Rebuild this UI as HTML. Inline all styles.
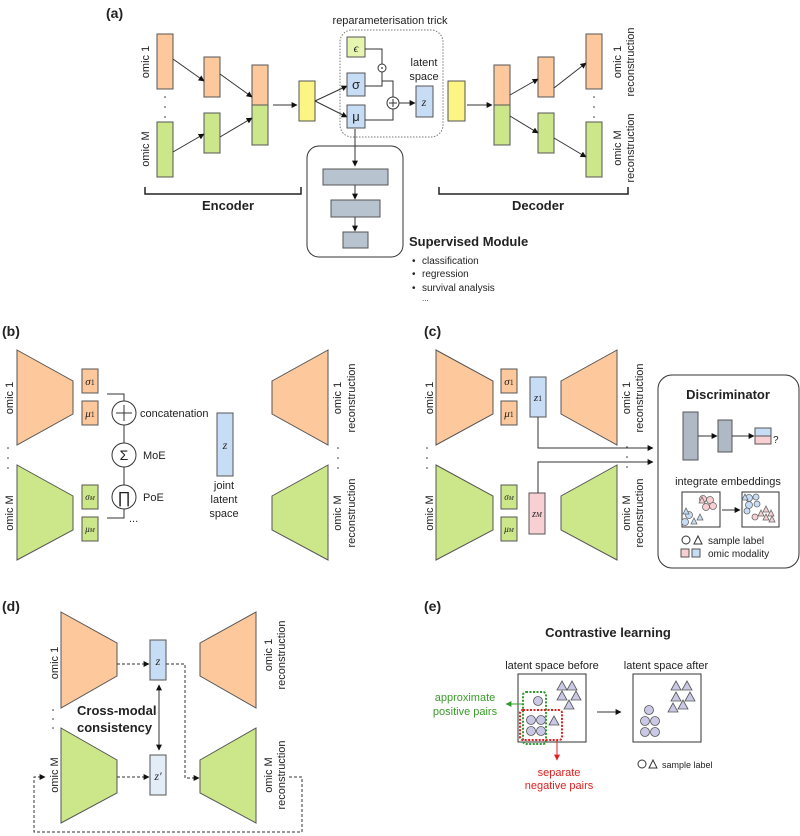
<!DOCTYPE html>
<html><head><meta charset="utf-8"><style>
html,body{margin:0;padding:0;background:#fff}
svg{display:block}
text{font-family:"Liberation Sans",sans-serif;fill:#222}
.o{fill:#fdc89b;stroke:#555;stroke-width:1}
.g{fill:#cce68a;stroke:#555;stroke-width:1}
.b{fill:#c7ddf5;stroke:#555;stroke-width:1}
.gr{fill:#b7c3cf;stroke:#555;stroke-width:1}
.ln{stroke:#333;stroke-width:1;fill:none}
.ds{stroke:#333;stroke-width:1;fill:none;stroke-dasharray:3,2}
.s11{font-size:11px}
.bold{font-weight:bold}
.m{font-family:"Liberation Serif",serif;font-style:italic}
</style></head><body>
<svg width="800" height="836" viewBox="0 0 800 836" xmlns="http://www.w3.org/2000/svg">
<defs>
<marker id="a" viewBox="0 0 10 10" refX="9" refY="5" markerWidth="6" markerHeight="6" orient="auto-start-reverse"><path d="M0,0 L10,5 L0,10 z" fill="#111"/></marker>
<marker id="ag" viewBox="0 0 10 10" refX="9" refY="5" markerWidth="6" markerHeight="6" orient="auto"><path d="M0,0 L10,5 L0,10 z" fill="#2e9a2e"/></marker>
<marker id="ar" viewBox="0 0 10 10" refX="9" refY="5" markerWidth="6" markerHeight="6" orient="auto"><path d="M0,0 L10,5 L0,10 z" fill="#e02020"/></marker>
</defs>

<!-- ===== (a) ===== -->
<text x="106" y="18" font-size="14" class="bold">(a)</text>
<text x="390" y="24" class="s11" text-anchor="middle">reparameterisation trick</text>
<rect x="157" y="34" width="16" height="55" class="o"/>
<rect x="157" y="122" width="16" height="55" class="g"/>
<text transform="translate(149,62) rotate(-90)" class="s11" text-anchor="middle">omic 1</text>
<text transform="translate(149,149) rotate(-90)" class="s11" text-anchor="middle">omic M</text>
<g fill="#333"><circle cx="165" cy="97" r="0.8"/><circle cx="165" cy="107" r="0.8"/><circle cx="165" cy="117" r="0.8"/></g>
<rect x="204" y="57" width="16" height="40" class="o"/>
<rect x="204" y="113" width="16" height="40" class="g"/>
<rect x="252" y="65" width="16" height="40" class="o"/>
<rect x="252" y="105" width="16" height="40" class="g"/>
<line x1="173" y1="59" x2="204" y2="81" class="ln" marker-end="url(#a)"/>
<line x1="220" y1="74" x2="252" y2="97" class="ln" marker-end="url(#a)"/>
<line x1="173" y1="152" x2="204" y2="134" class="ln" marker-end="url(#a)"/>
<line x1="220" y1="137" x2="252" y2="118" class="ln" marker-end="url(#a)"/>
<line x1="273" y1="105" x2="297" y2="105" class="ln" marker-end="url(#a)"/>
<rect x="299" y="81" width="16" height="40" fill="#fcf584" stroke="#555"/>
<line x1="315" y1="101" x2="347" y2="86" class="ln" marker-end="url(#a)"/>
<line x1="315" y1="101" x2="347" y2="117" class="ln" marker-end="url(#a)"/>
<rect x="340" y="30" width="103" height="107" rx="12" fill="none" stroke="#777" stroke-dasharray="1.5,1.5"/>
<rect x="347" y="37" width="18" height="20" fill="#e6f5b0" stroke="#555"/>
<text x="356" y="52" font-size="12" text-anchor="middle" class="m">ϵ</text>
<rect x="347" y="73" width="18" height="23" class="b"/>
<text x="356" y="89" font-size="13" text-anchor="middle" font-family="Liberation Serif">σ</text>
<rect x="347" y="105" width="18" height="23" class="b"/>
<text x="356" y="121" font-size="13" text-anchor="middle" font-family="Liberation Serif">μ</text>
<polyline points="365,49 382,49 382,64" class="ln"/>
<polyline points="365,86 382,86 382,72" class="ln"/>
<circle cx="382" cy="68" r="4" fill="#fff" stroke="#333"/><circle cx="382" cy="68" r="0.9" fill="#333"/>
<polyline points="382,72 382,81 393,81 393,97" class="ln"/>
<polyline points="365,120 393,120 393,109" class="ln"/>
<circle cx="393" cy="103" r="6" fill="#fff" stroke="#333"/>
<path d="M389,103 H397 M393,99 V107" stroke="#333"/>
<line x1="399" y1="103" x2="415" y2="103" class="ln" marker-end="url(#a)"/>
<rect x="416" y="86" width="17" height="31" class="b"/>
<text x="424" y="106" font-size="12" text-anchor="middle" class="m">z</text>
<text x="424" y="66" class="s11" text-anchor="middle">latent</text>
<text x="424" y="80" class="s11" text-anchor="middle">space</text>
<!-- decoder -->
<rect x="448" y="81" width="17" height="40" fill="#fcf584" stroke="#555"/>
<line x1="467" y1="105" x2="492" y2="105" class="ln" marker-end="url(#a)"/>
<rect x="494" y="65" width="16" height="40" class="o"/>
<rect x="494" y="105" width="16" height="40" class="g"/>
<rect x="538" y="57" width="16" height="40" class="o"/>
<rect x="538" y="113" width="16" height="40" class="g"/>
<rect x="586" y="34" width="16" height="55" class="o"/>
<rect x="586" y="122" width="16" height="55" class="g"/>
<line x1="510" y1="95" x2="538" y2="79" class="ln" marker-end="url(#a)"/>
<line x1="510" y1="116" x2="538" y2="133" class="ln" marker-end="url(#a)"/>
<line x1="554" y1="88" x2="586" y2="63" class="ln" marker-end="url(#a)"/>
<line x1="554" y1="138" x2="586" y2="157" class="ln" marker-end="url(#a)"/>
<g fill="#333"><circle cx="594" cy="97" r="0.8"/><circle cx="594" cy="107" r="0.8"/><circle cx="594" cy="117" r="0.8"/></g>
<text transform="translate(621,62) rotate(-90)" class="s11" text-anchor="middle">omic 1</text>
<text transform="translate(634,62) rotate(-90)" class="s11" text-anchor="middle">reconstruction</text>
<text transform="translate(621,148) rotate(-90)" class="s11" text-anchor="middle">omic M</text>
<text transform="translate(634,148) rotate(-90)" class="s11" text-anchor="middle">reconstruction</text>
<polyline points="145,187 145,194 301,194 301,187" fill="none" stroke="#222" stroke-width="1.5"/>
<text x="228" y="210" font-size="13" class="bold" text-anchor="middle">Encoder</text>
<polyline points="439,187 439,194 628,194 628,187" fill="none" stroke="#222" stroke-width="1.5"/>
<text x="538" y="210" font-size="13" class="bold" text-anchor="middle">Decoder</text>
<!-- supervised -->
<rect x="307" y="146" width="96" height="111" rx="12" fill="none" stroke="#333"/>
<line x1="355" y1="129" x2="355" y2="166" class="ln" marker-end="url(#a)"/>
<rect x="323" y="169" width="65" height="16" class="gr"/>
<line x1="355" y1="185" x2="355" y2="199" class="ln" marker-end="url(#a)"/>
<rect x="331" y="200" width="49" height="17" class="gr"/>
<line x1="355" y1="217" x2="355" y2="231" class="ln" marker-end="url(#a)"/>
<rect x="343" y="232" width="25" height="16" class="gr"/>
<text x="409" y="246" font-size="13" class="bold">Supervised Module</text>
<g font-size="10"><text x="412" y="264">•</text><text x="422" y="264">classification</text>
<text x="412" y="277">•</text><text x="422" y="277">regression</text>
<text x="412" y="291">•</text><text x="422" y="291">survival analysis</text>
<text x="422" y="301" font-size="8">...</text></g>

<!-- ===== (b) ===== -->
<text x="2" y="336" font-size="14" class="bold">(b)</text>
<polygon points="17,350 73,381 73,414 17,445" class="o"/>
<polygon points="17,465 73,496 73,530 17,560" class="g"/>
<rect x="82" y="369" width="16" height="24" class="o"/><text x="90" y="385" font-size="11" text-anchor="middle" class="m">σ<tspan font-size="8" font-style="normal">1</tspan></text>
<rect x="82" y="401" width="16" height="24" class="o"/><text x="90" y="417" font-size="11" text-anchor="middle" class="m">μ<tspan font-size="8" font-style="normal">1</tspan></text>
<rect x="82" y="485" width="16" height="24" class="g"/><text x="90" y="500" font-size="9" text-anchor="middle" class="m">σ<tspan font-size="6">M</tspan></text>
<rect x="82" y="517" width="16" height="24" class="g"/><text x="90" y="532" font-size="9" text-anchor="middle" class="m">μ<tspan font-size="6">M</tspan></text>
<text transform="translate(13,398) rotate(-90)" class="s11" text-anchor="middle">omic 1</text>
<text transform="translate(13,513) rotate(-90)" class="s11" text-anchor="middle">omic M</text>
<g fill="#333"><circle cx="8" cy="448" r="0.8"/><circle cx="8" cy="458" r="0.8"/><circle cx="8" cy="468" r="0.8"/></g>
<polyline points="107,394 124,394 124,518 107,518" class="ln"/>
<circle cx="124" cy="413" r="12" fill="#fff" stroke="#333"/><path d="M116,413 H132 M124,405 V421" stroke="#333"/>
<circle cx="124" cy="455" r="12" fill="#fff" stroke="#333"/><text x="124" y="460" font-size="14" text-anchor="middle">Σ</text>
<circle cx="124" cy="497" r="12" fill="#fff" stroke="#333"/><text x="124" y="503" font-size="16" text-anchor="middle" font-family="Liberation Serif">∏</text>
<text x="140" y="417" class="s11">concatenation</text>
<text x="143" y="459" class="s11">MoE</text>
<text x="143" y="501" class="s11">PoE</text>
<text x="129" y="522" class="s11">...</text>
<rect x="217" y="413" width="16" height="63" class="b"/><text x="225" y="449" font-size="12" text-anchor="middle" class="m">z</text>
<text x="224" y="489" class="s11" text-anchor="middle">joint</text>
<text x="224" y="503" class="s11" text-anchor="middle">latent</text>
<text x="224" y="517" class="s11" text-anchor="middle">space</text>
<polygon points="328,350 272,381 272,414 328,445" class="o"/>
<polygon points="328,465 272,496 272,530 328,560" class="g"/>
<text transform="translate(341,398) rotate(-90)" class="s11" text-anchor="middle">omic 1</text>
<text transform="translate(355,398) rotate(-90)" class="s11" text-anchor="middle">reconstruction</text>
<text transform="translate(341,513) rotate(-90)" class="s11" text-anchor="middle">omic M</text>
<text transform="translate(355,513) rotate(-90)" class="s11" text-anchor="middle">reconstruction</text>
<g fill="#333"><circle cx="338" cy="448" r="0.8"/><circle cx="338" cy="458" r="0.8"/><circle cx="338" cy="468" r="0.8"/></g>

<!-- ===== (c) ===== -->
<text x="424" y="336" font-size="14" class="bold">(c)</text>
<polygon points="436,350 493,381 493,414 436,445" class="o"/>
<polygon points="436,465 493,496 493,530 436,560" class="g"/>
<rect x="501" y="369" width="16" height="24" class="o"/><text x="509" y="385" font-size="11" text-anchor="middle" class="m">σ<tspan font-size="8" font-style="normal">1</tspan></text>
<rect x="501" y="401" width="16" height="24" class="o"/><text x="509" y="417" font-size="11" text-anchor="middle" class="m">μ<tspan font-size="8" font-style="normal">1</tspan></text>
<rect x="501" y="485" width="16" height="24" class="g"/><text x="509" y="500" font-size="9" text-anchor="middle" class="m">σ<tspan font-size="6">M</tspan></text>
<rect x="501" y="517" width="16" height="24" class="g"/><text x="509" y="532" font-size="9" text-anchor="middle" class="m">μ<tspan font-size="6">M</tspan></text>
<rect x="530" y="377" width="16" height="40" class="b"/><text x="538" y="401" font-size="11" text-anchor="middle" class="m">z<tspan font-size="8" font-style="normal">1</tspan></text>
<rect x="529" y="493" width="16" height="41" fill="#f8cfd3" stroke="#555"/><text x="537" y="517" font-size="10" text-anchor="middle" class="m">z<tspan font-size="7">M</tspan></text>
<text transform="translate(433,398) rotate(-90)" class="s11" text-anchor="middle">omic 1</text>
<text transform="translate(433,513) rotate(-90)" class="s11" text-anchor="middle">omic M</text>
<g fill="#333"><circle cx="427" cy="448" r="0.8"/><circle cx="427" cy="458" r="0.8"/><circle cx="427" cy="468" r="0.8"/></g>
<polygon points="617,350 561,381 561,414 617,445" class="o"/>
<polygon points="617,465 561,496 561,530 617,560" class="g"/>
<text transform="translate(630,398) rotate(-90)" class="s11" text-anchor="middle">omic 1</text>
<text transform="translate(643,398) rotate(-90)" class="s11" text-anchor="middle">reconstruction</text>
<text transform="translate(630,513) rotate(-90)" class="s11" text-anchor="middle">omic M</text>
<text transform="translate(643,513) rotate(-90)" class="s11" text-anchor="middle">reconstruction</text>
<g fill="#333"><circle cx="627" cy="447" r="0.8"/><circle cx="627" cy="457" r="0.8"/><circle cx="627" cy="467" r="0.8"/></g>
<polyline points="538,417 538,448 653,448" class="ln" marker-end="url(#a)"/>
<polyline points="538,493 538,462 653,462" class="ln" marker-end="url(#a)"/>
<rect x="658" y="375" width="141" height="193" rx="14" fill="none" stroke="#333"/>
<text x="728" y="399" font-size="13" class="bold" text-anchor="middle">Discriminator</text>
<rect x="683" y="412" width="15" height="48" fill="#aeb9c5" stroke="#555"/>
<rect x="718" y="420" width="14" height="32" fill="#aeb9c5" stroke="#555"/>
<line x1="698" y1="436" x2="717" y2="436" class="ln" marker-end="url(#a)"/>
<line x1="732" y1="436" x2="754" y2="436" class="ln" marker-end="url(#a)"/>
<rect x="755" y="428" width="16" height="8" class="b"/><rect x="755" y="436" width="16" height="8" fill="#f8cfd3" stroke="#555"/>
<text x="773" y="443" font-size="10">?</text>
<text x="728" y="485" class="s11" text-anchor="middle">integrate embeddings</text>
<rect x="682" y="492" width="38" height="35" fill="#fff" stroke="#333"/>
<rect x="742" y="492" width="37" height="35" fill="#fff" stroke="#333"/>
<line x1="722" y1="510" x2="740" y2="510" class="ln" marker-end="url(#a)"/>
<g stroke="#666" stroke-width="0.8" fill="#f8cfd3">
<circle cx="703" cy="499" r="3.5"/><circle cx="710" cy="500" r="3.5"/><circle cx="713" cy="506" r="3.5"/><circle cx="706" cy="507" r="3.5"/><polygon points="699,503 702,497 705,503"/>
<polygon points="758,516 761,510 764,516"/><polygon points="763,512 766,506 769,512"/><polygon points="768,516 771,510 774,516"/><polygon points="763,520 766,514 769,520"/><polygon points="769,522 772,516 775,522"/><circle cx="755" cy="517" r="3"/></g>
<g stroke="#666" stroke-width="0.8" fill="#c7ddf5">
<circle cx="689" cy="515" r="3.5"/><circle cx="685" cy="522" r="3.5"/><polygon points="691,524 694,518 697,524"/><polygon points="697,520 700,514 703,520"/><polygon points="683,514 686,508 689,514"/>
<circle cx="749" cy="498" r="3.5"/><circle cx="756" cy="497" r="3"/><circle cx="749" cy="505" r="3.5"/><circle cx="757" cy="504" r="3"/><polygon points="742,500 745,494 748,500"/><circle cx="747" cy="511" r="3"/></g>
<circle cx="686" cy="540" r="4" fill="none" stroke="#333"/>
<polygon points="694,544 698,536 702,544" fill="none" stroke="#333"/>
<text x="708" y="544" font-size="10">sample label</text>
<rect x="681" y="549" width="8" height="8" fill="#f8cfd3" stroke="#555"/>
<rect x="692" y="549" width="8" height="8" class="b"/>
<text x="708" y="557" font-size="10">omic modality</text>

<!-- ===== (d) ===== -->
<text x="2" y="611" font-size="14" class="bold">(d)</text>
<polygon points="61,612 117,643 117,676 61,708" class="o"/>
<polygon points="61,728 117,760 117,793 61,823" class="g"/>
<text transform="translate(58,663) rotate(-90)" class="s11" text-anchor="middle">omic 1</text>
<text transform="translate(58,775) rotate(-90)" class="s11" text-anchor="middle">omic M</text>
<g fill="#333"><circle cx="53" cy="710" r="0.8"/><circle cx="53" cy="719" r="0.8"/><circle cx="53" cy="728" r="0.8"/></g>
<rect x="150" y="640" width="16" height="40" class="b"/><text x="158" y="665" font-size="12" text-anchor="middle" class="m">z</text>
<rect x="150" y="755" width="16" height="40" fill="#e3edf8" stroke="#555"/><text x="158" y="780" font-size="12" text-anchor="middle" class="m">z′</text>
<line x1="117" y1="664" x2="149" y2="664" class="ds" marker-end="url(#a)"/>
<line x1="117" y1="777" x2="149" y2="777" class="ds" marker-end="url(#a)"/>
<line x1="159" y1="685" x2="159" y2="750" class="ln" marker-start="url(#a)" marker-end="url(#a)"/>
<text x="77" y="715" font-size="13" class="bold">Cross-modal</text>
<text x="77" y="732" font-size="13" class="bold">consistency</text>
<polygon points="256,612 200,643 200,676 256,708" class="o"/>
<polygon points="256,728 200,760 200,793 256,823" class="g"/>
<polyline points="166,664 185,664 185,778 199,778" class="ds" marker-end="url(#a)"/>
<text transform="translate(272,655) rotate(-90)" class="s11" text-anchor="middle">omic 1</text>
<text transform="translate(285,655) rotate(-90)" class="s11" text-anchor="middle">reconstruction</text>
<text transform="translate(272,775) rotate(-90)" class="s11" text-anchor="middle">omic M</text>
<text transform="translate(285,775) rotate(-90)" class="s11" text-anchor="middle">reconstruction</text>
<polyline points="289,777 302,777 302,832 34,832 34,777 45,777" class="ds" marker-end="url(#a)"/>

<!-- ===== (e) ===== -->
<text x="424" y="611" font-size="14" class="bold">(e)</text>
<text x="608" y="637" font-size="13" class="bold" text-anchor="middle">Contrastive learning</text>
<text x="552" y="669" class="s11" text-anchor="middle">latent space before</text>
<text x="666" y="669" class="s11" text-anchor="middle">latent space after</text>
<rect x="518" y="674" width="68" height="68" fill="#fff" stroke="#333"/>
<rect x="633" y="674" width="68" height="68" fill="#fff" stroke="#333"/>
<line x1="597" y1="712" x2="621" y2="712" class="ln" marker-end="url(#a)"/>
<g fill="#c9c9e6" stroke="#555" stroke-width="0.8">
<polygon points="557,690 562,681 567,690"/><polygon points="567,690 572,681 577,690"/><polygon points="557,700 562,691 567,700"/><polygon points="571,700 576,691 581,700"/><polygon points="564,709 569,700 574,709"/><polygon points="549,725 554,716 559,725"/>
<circle cx="538" cy="701" r="4.5"/><circle cx="531" cy="720" r="4.5"/><circle cx="541" cy="720" r="4.5"/><circle cx="531" cy="731" r="4.5"/><circle cx="541" cy="731" r="4.5"/>
<polygon points="671,690 676,681 681,690"/><polygon points="682,690 687,681 692,690"/><polygon points="671,701 676,692 681,701"/><polygon points="685,701 690,692 695,701"/><polygon points="668,712 673,703 678,712"/><polygon points="678,709 683,700 688,709"/>
<circle cx="649" cy="710" r="4.5"/><circle cx="645" cy="721" r="4.5"/><circle cx="655" cy="721" r="4.5"/><circle cx="645" cy="732" r="4.5"/><circle cx="655" cy="732" r="4.5"/></g>
<rect x="523" y="692" width="23" height="52" rx="3" fill="none" stroke="#2e9a2e" stroke-width="2" stroke-dasharray="2,1.5"/>
<rect x="520" y="710" width="42" height="30" rx="3" fill="none" stroke="#e02020" stroke-width="2" stroke-dasharray="2,1.5"/>
<line x1="523" y1="704" x2="506" y2="704" stroke="#2e9a2e" marker-end="url(#ag)"/>
<text x="465" y="701" class="s11" text-anchor="middle" style="fill:#3a9a2a">approximate</text>
<text x="465" y="715" class="s11" text-anchor="middle" style="fill:#3a9a2a">positive pairs</text>
<line x1="557" y1="740" x2="557" y2="760" stroke="#e02020" marker-end="url(#ar)"/>
<text x="559" y="776" class="s11" text-anchor="middle" style="fill:#e02020">separate</text>
<text x="559" y="789" class="s11" text-anchor="middle" style="fill:#e02020">negative pairs</text>
<circle cx="642" cy="764" r="4" fill="none" stroke="#333"/>
<polygon points="649,768 653,760 657,768" fill="none" stroke="#333"/>
<text x="662" y="768" font-size="9">sample label</text>
</svg>
</body></html>
